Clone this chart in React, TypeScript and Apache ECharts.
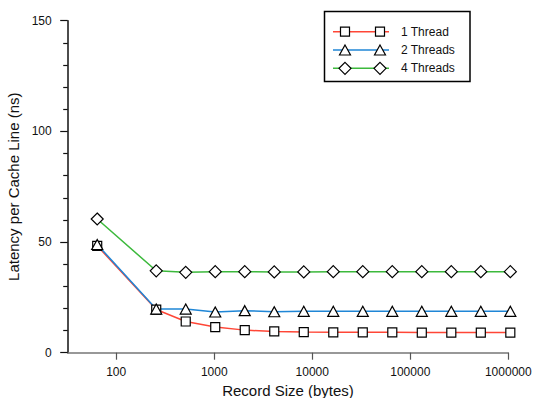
import React, { useEffect, useRef } from "react";
import * as echarts from "echarts";

// Record sizes in bytes
const recordSizes = [64, 256, 512, 1024, 2048, 4096, 8192, 16384, 32768, 65536, 131072, 262144, 524288, 1048576];

// Latency per cache line (ns)
const oneThread = [48.3, 19.5, 14.1, 11.6, 10.2, 9.6, 9.3, 9.2, 9.2, 9.2, 9.1, 9.1, 9.1, 9.1];
const twoThreads = [48.9, 19.7, 19.7, 18.4, 19.0, 18.5, 18.7, 18.7, 18.7, 18.7, 18.7, 18.7, 18.7, 18.7];
const fourThreads = [60.4, 37.0, 36.3, 36.6, 36.6, 36.5, 36.5, 36.6, 36.6, 36.6, 36.6, 36.6, 36.6, 36.6];

const seriesNames = ["1 Thread", "2 Threads", "4 Threads"];
const seriesColors = ["#ff4636", "#1f86d6", "#3cb93c"];
const seriesSymbols = ["rect", "triangle", "diamond"];
const symbolSizes: Array<number | number[]> = [[9, 9], [11, 10], [12, 12]];

const xTicks = [100, 1000, 10000, 100000, 1000000];

const FONT = "'Liberation Sans', Arial, Helvetica, sans-serif";

function legendMarker(kind: string, cx: number, cy: number) {
  const style = { fill: "#ffffff", stroke: "#000000", lineWidth: 1.2 };
  if (kind === "rect") {
    return { type: "rect", shape: { x: cx - 4.5, y: cy - 4.5, width: 9, height: 9 }, style };
  }
  if (kind === "triangle") {
    return {
      type: "polygon",
      shape: { points: [[cx, cy - 5], [cx + 5.5, cy + 5], [cx - 5.5, cy + 5]] },
      style,
    };
  }
  return {
    type: "polygon",
    shape: { points: [[cx, cy - 6], [cx + 6, cy], [cx, cy + 6], [cx - 6, cy]] },
    style,
  };
}

export default function App() {
  const ref = useRef<HTMLDivElement>(null);

  useEffect(() => {
    if (!ref.current) return;
    const chart = echarts.init(ref.current, undefined, { renderer: "svg" });
    const allValues = [oneThread, twoThreads, fourThreads];

    const legendRows = [31.7, 50, 68.3];
    const legendChildren: any[] = [
      {
        type: "rect",
        shape: { x: 324.5, y: 11.5, width: 145.5, height: 70 },
        style: { fill: "#ffffff", stroke: "#000000", lineWidth: 1.5 },
      },
    ];
    seriesNames.forEach((name, i) => {
      const y = legendRows[i];
      legendChildren.push({
        type: "line",
        shape: { x1: 333, y1: y, x2: 389, y2: y },
        style: { stroke: seriesColors[i], lineWidth: 1.5 },
      });
      legendChildren.push(legendMarker(seriesSymbols[i], 345, y));
      legendChildren.push(legendMarker(seriesSymbols[i], 380, y));
      legendChildren.push({
        type: "text",
        x: 401,
        y,
        style: {
          text: name,
          fontFamily: FONT,
          fontSize: 12,
          fill: "#111111",
          verticalAlign: "middle",
        },
      });
    });

    chart.setOption({
      animation: false,
      backgroundColor: "#ffffff",
      textStyle: { fontFamily: FONT },
      grid: {
        left: 67.7,
        right: 24.7,
        top: 20.7,
        bottom: 45.3,
        containLabel: false,
        outerBoundsMode: "none",
      },
      xAxis: {
        type: "log",
        logBase: 10,
        min: 32,
        max: 1000000,
        name: "Record Size (bytes)",
        nameLocation: "middle",
        nameGap: 29,
        nameTextStyle: { fontSize: 15, color: "#111111", fontFamily: FONT },
        axisLine: { lineStyle: { color: "#777777", width: 1.5 } },
        axisTick: { length: 7, lineStyle: { color: "#555555", width: 1.2 }, customValues: xTicks },
        axisLabel: {
          customValues: xTicks,
          fontSize: 12,
          color: "#111111",
          margin: 13,
          fontFamily: FONT,
          formatter: (v: number) => String(Math.round(v)),
        },
        splitLine: { show: false },
        minorTick: { show: false },
      },
      yAxis: {
        type: "value",
        min: 0,
        max: 150,
        interval: 50,
        name: "Latency per Cache Line (ns)",
        nameLocation: "middle",
        nameGap: 39,
        nameTextStyle: { fontSize: 15, color: "#111111", fontFamily: FONT },
        axisLine: { show: true, lineStyle: { color: "#111111", width: 1.5 } },
        axisTick: { show: true, length: 7.5, lineStyle: { color: "#111111", width: 1.2 } },
        minorTick: { show: true, splitNumber: 5, length: 4.5, lineStyle: { color: "#111111", width: 1.2 } },
        axisLabel: { fontSize: 12, color: "#111111", margin: 16, fontFamily: FONT },
        splitLine: { show: false },
      },
      series: seriesNames.map((name, i) => ({
        name,
        type: "line",
        data: recordSizes.map((x, j) => [x, allValues[i][j]]),
        symbol: seriesSymbols[i],
        symbolSize: symbolSizes[i],
        showAllSymbol: true,
        clip: false,
        lineStyle: { color: seriesColors[i], width: 1.5 },
        itemStyle: { color: "#ffffff", borderColor: "#000000", borderWidth: 1.2 },
        emphasis: { disabled: true },
      })),
      graphic: [{ type: "group", children: legendChildren }],
    });

    return () => chart.dispose();
  }, []);

  return <div ref={ref} style={{ width: 533, height: 398, position: "absolute", left: 0, top: 0 }} />;
}
